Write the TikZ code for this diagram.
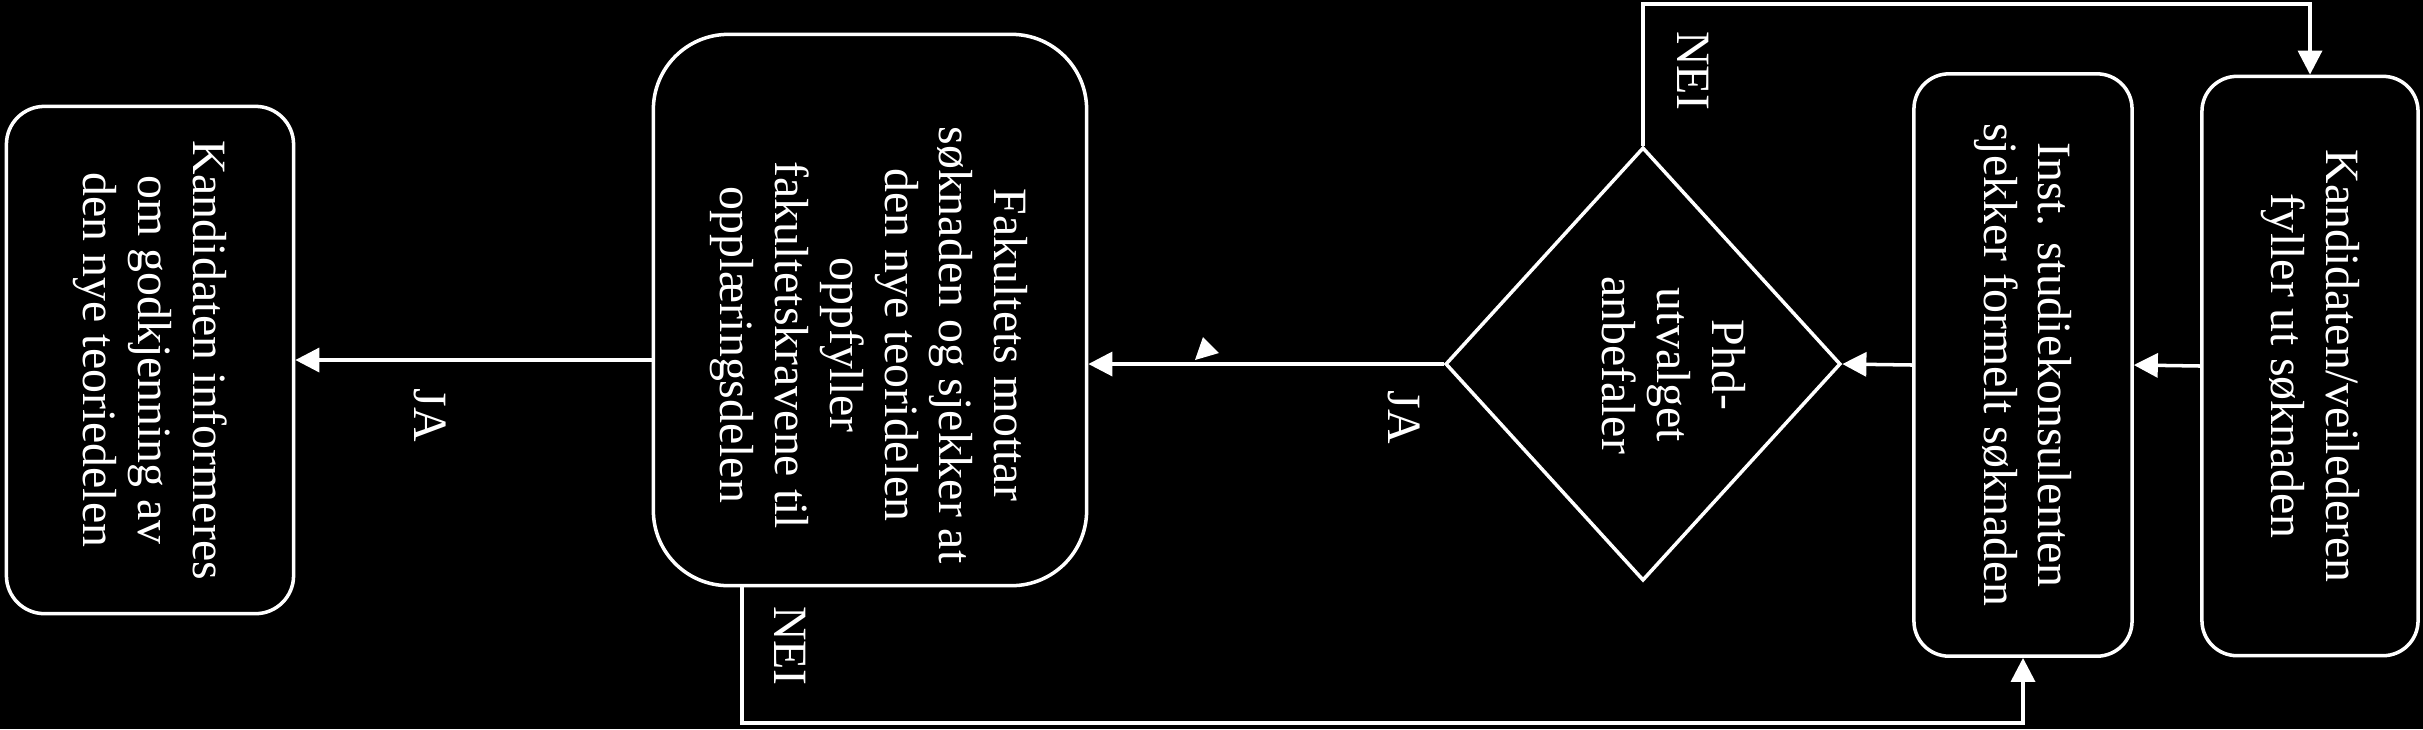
\documentclass[tikz,border=0pt]{standalone}
\usepackage{fontspec}
\setmainfont{Liberation Serif}
\usepackage{tikz}
\usetikzlibrary{arrows.meta,calc,shapes.geometric}

\begin{document}
\begin{tikzpicture}[x=0.01cm, y=-0.01cm, line width=1pt,
  every node/.style={text=white, font=\fontsize{13.6}{15.6}\selectfont},
  box/.style={draw=white, rotate=-90, align=center, inner sep=0pt},
  txt/.style={rotate=-90, align=center},
  arr/.style={draw=white, -{Triangle[length=0.24cm, width=0.24cm]}}]
\path[fill=black, use as bounding box] (0,0) rectangle (2423,729);
% steps, right to left
\node[box, rounded corners=0.35cm, minimum width=5.79cm, minimum height=2.16cm] (soknad) at (2310,366) {Kandidaten/veilederen\\fyller ut søknaden};
\node[box, rounded corners=0.35cm, minimum width=5.82cm, minimum height=2.18cm] (inst) at (2023,365) {Inst. studiekonsulenten\\sjekker formelt søknaden};
\node[draw=white, diamond, rotate=-90, minimum width=4.33cm, minimum height=3.95cm, inner sep=0pt] (anbefaling) at (1643,364) {};
\node[txt] (anbefalingtekst) at (1674,365) {Phd-\\utvalget\\anbefaler};
\node[box, rounded corners=0.75cm, minimum width=5.51cm, minimum height=4.33cm] (fakultet) at (870,310) {};
\node[txt] (fakultettekst) at (869,345) {Fakultets mottar\\søknaden og sjekker at\\den nye teoridelen\\oppfyller\\fakultetskravene til\\opplæringsdelen};
\node[box, rounded corners=0.38cm, minimum width=5.07cm, minimum height=2.87cm] (informert) at (150,360) {Kandidaten informeres\\om godkjenning av\\den nye teoriedelen};
% main line
\draw[arr] (soknad.south) -- (inst.north);
\draw[arr] (inst.south) -- (anbefaling.north);
\draw[arr] (anbefaling.south) -- (anbefaling.south -| fakultet.north);
\draw[arr] (fakultet.south |- informert.north) -- (informert.north);
\node[txt] (ja2) at (1404,417) {JA};
\node[txt] (ja1) at (430,415) {JA};
% stray tip on the line
\fill[white] (1195,360) -- (1203,337) -- (1219,353) -- cycle;
% NEI loops
\coordinate (topp) at (0,4);
\draw[arr] (anbefaling.west) -- (anbefaling.west |- topp) -| (soknad.west);
\node[txt] (nei2) at (1693,71) {NEI};
\coordinate (bunn) at (742,723);
\draw[arr] (bunn |- fakultet.east) -- (bunn) -| (inst.east);
\node[txt] (nei1) at (790,646) {NEI};
\end{tikzpicture}
\end{document}
